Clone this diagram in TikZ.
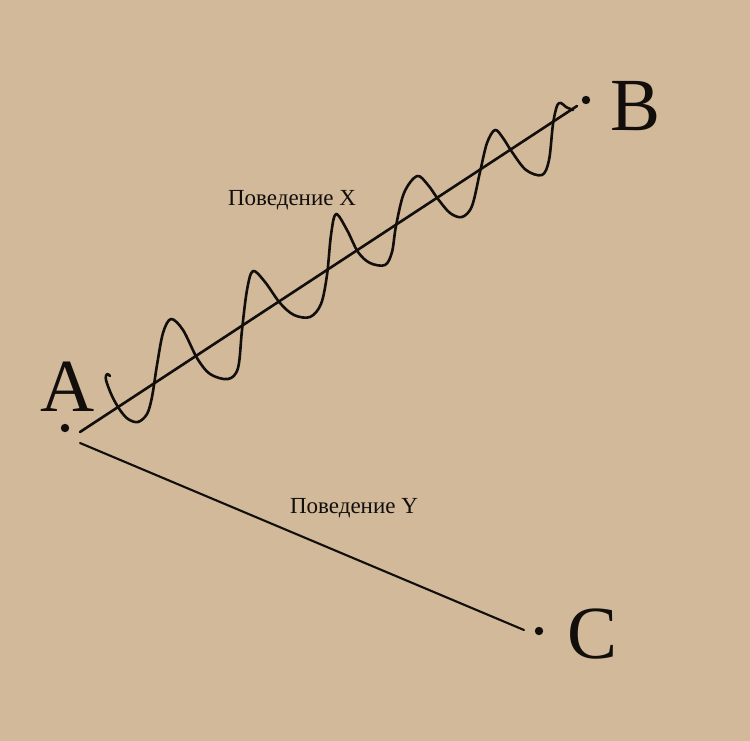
\documentclass[tikz,border=0pt]{standalone}
\usepackage{fontspec}
\newfontfamily\labelfont{Liberation Serif}
\definecolor{bg}{RGB}{209,185,154}
\definecolor{ink}{RGB}{17,14,12}
\begin{document}
\begin{tikzpicture}[x=1pt,y=-1pt,
  bigletter/.style={font=\labelfont\fontsize{75}{75}\selectfont, text=ink, anchor=base, inner sep=0pt},
  behlabel/.style={font=\labelfont\fontsize{23}{24}\selectfont, text=ink, anchor=base, inner sep=0pt},
  stroke/.style={draw=ink, line width=2.6pt, line cap=round},
  dotmark/.style={fill=ink}]
\fill[bg] (0,0) rectangle (750,741);
\useasboundingbox (0,0) rectangle (750,741);
% points
\coordinate (dA) at (65,428);
\coordinate (dB) at (586,100);
\coordinate (dC) at (539,631);
\coordinate (sAB) at (80,432);
\coordinate (eAB) at (577,106);
\coordinate (sAC) at (80,443);
\coordinate (eAC) at (524,630);
\fill[dotmark] (dA) circle (4.2);
\fill[dotmark] (dB) circle (4.2);
\fill[dotmark] (dC) circle (4.2);
\node[bigletter] (A) at (68,411) {A};
\node[bigletter] (B) at (636,131) {B};
\node[bigletter] (C) at (593,658) {C};
\node[behlabel] (lx) at (292,205) {Поведение X};
\node[behlabel] (ly) at (354,513) {Поведение Y};
\draw[stroke] (sAB) -- (eAB);
\draw[stroke, line width=2.1pt] (sAC) -- (eAC);
% wave
\draw[stroke, line join=round] plot[smooth, tension=0.55] coordinates {
 (110,376) (107,374) (106,380) (112,396) (120,410) (128,419) (138,422) (147,414) (152,397) (157,365) (163,333) (171,319)
 (183,330) (197,358) (210,374) (228,379) (238,368) (242,330) (247,290) (253,271)
 (265,282) (280,303) (294,315) (310,317) (321,304) (327,275) (331,235) (336,214)
 (347,230) (358,252) (370,263) (385,265) (392,252) (396,226) (404,193) (417,176)
 (428,185) (438,199) (450,213) (462,217) (472,206) (480,172) (487,143) (495,130)
 (503,138) (512,152) (526,170) (542,175) (549,160) (553,124) (557,106) (561,103) (566,107) (573,110)};
\end{tikzpicture}
\end{document}
